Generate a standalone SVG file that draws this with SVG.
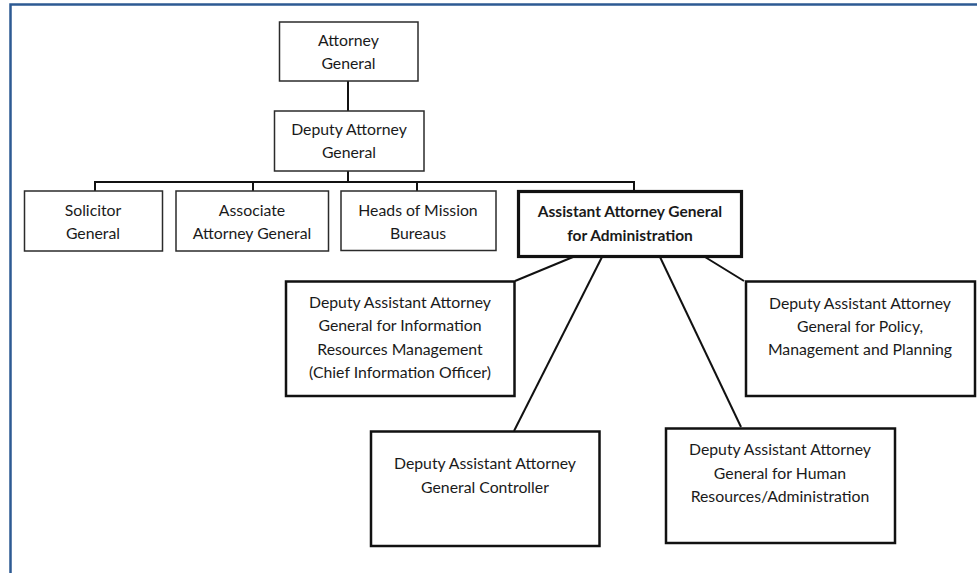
<svg xmlns="http://www.w3.org/2000/svg" width="977" height="573" viewBox="0 0 977 573">
  <style>
    text { font-family: Lato, "Open Sans", "Liberation Sans", sans-serif; font-size: 15.8px; fill: #1a1a1a; text-anchor: middle; }
    .b { font-weight: bold; font-size: 15.5px; }
    .box { fill: #ffffff; stroke: #2b2b2b; stroke-width: 1.5; }
    .heavy { fill: #ffffff; stroke: #111111; stroke-width: 2.5; }
    .lead { fill: #ffffff; stroke: #111111; stroke-width: 3.2; }
    .con { fill: none; stroke: #111111; stroke-width: 2; }
    .frame { fill: none; stroke: #2d5a93; stroke-width: 2.5; }
  </style>
  <rect width="977" height="573" fill="#ffffff"/>
  <path class="frame" d="M10.5,573 V4.5 H977"/>

  <g id="connectors">
    <path class="con" d="M348,81 V182"/>
    <path class="con" d="M95,191 V182 H634 V191"/>
    <path class="con" d="M253,182 V191"/>
    <path class="con" d="M417,182 V191"/>
    <path class="con" d="M573,257 L515,281"/>
    <path class="con" d="M602,257 L514,431"/>
    <path class="con" d="M660,257 L741,427"/>
    <path class="con" d="M705,257 L744,281"/>
  </g>

  <g id="attorney-general">
    <rect class="box" x="279.5" y="22" width="138.5" height="59"/>
    <text x="348.5" y="45.5">Attorney</text>
    <text x="348.5" y="68.5">General</text>
  </g>

  <g id="deputy-attorney-general">
    <rect class="box" x="274.5" y="111" width="149.5" height="60"/>
    <text x="349" y="135">Deputy Attorney</text>
    <text x="349" y="158">General</text>
  </g>

  <g id="solicitor-general">
    <rect class="box" x="24.5" y="191" width="138" height="60"/>
    <text x="93" y="216">Solicitor</text>
    <text x="93" y="239">General</text>
  </g>

  <g id="associate-attorney-general">
    <rect class="box" x="176" y="191" width="152.5" height="60"/>
    <text x="252" y="216">Associate</text>
    <text x="252" y="239">Attorney General</text>
  </g>

  <g id="heads-of-mission-bureaus">
    <rect class="box" x="341" y="191" width="155" height="59.5"/>
    <text x="418" y="216">Heads of Mission</text>
    <text x="418" y="239">Bureaus</text>
  </g>

  <g id="aag-administration">
    <rect class="lead" x="518.5" y="191.5" width="223" height="65"/>
    <text class="b" x="630" y="217">Assistant Attorney General</text>
    <text class="b" x="630" y="241">for Administration</text>
  </g>

  <g id="daag-irm">
    <rect class="heavy" x="286" y="281.5" width="228.5" height="114.5"/>
    <text x="400" y="307.5">Deputy Assistant Attorney</text>
    <text x="400" y="331">General for Information</text>
    <text x="400" y="354.5">Resources Management</text>
    <text x="400" y="377.5">(Chief Information Officer)</text>
  </g>

  <g id="daag-policy">
    <rect class="heavy" x="746" y="281.5" width="229" height="114.5"/>
    <text x="860" y="308.5">Deputy Assistant Attorney</text>
    <text x="860" y="332">General for Policy,</text>
    <text x="860" y="354.5">Management and Planning</text>
  </g>

  <g id="daag-controller">
    <rect class="heavy" x="371" y="431.5" width="228.5" height="114.5"/>
    <text x="485" y="468.5">Deputy Assistant Attorney</text>
    <text x="485" y="493">General Controller</text>
  </g>

  <g id="daag-human-resources">
    <rect class="heavy" x="666" y="428.5" width="229" height="114.5"/>
    <text x="780" y="455">Deputy Assistant Attorney</text>
    <text x="780" y="478.5">General for Human</text>
    <text x="780" y="502">Resources/Administration</text>
  </g>
</svg>
